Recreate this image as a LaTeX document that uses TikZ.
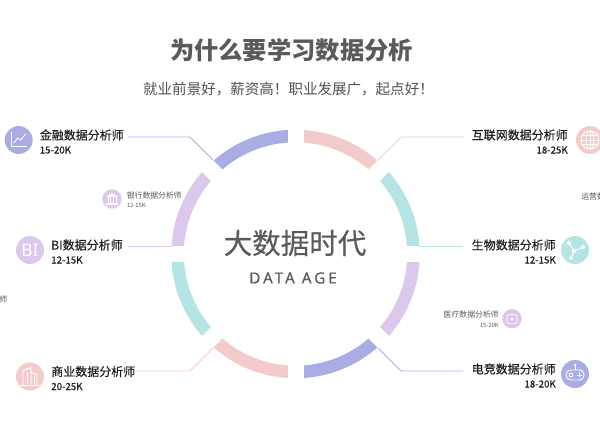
\documentclass[tikz,border=0pt]{standalone}
\usepackage{fontspec}
\setmainfont{Noto Sans CJK SC}
\newfontfamily\latinf[FakeBold=0.25]{Noto Sans}
\newfontfamily\latinr{Noto Sans}
\newfontfamily\medf[FakeBold=0.35]{Noto Sans CJK SC}
\definecolor{cblue}{HTML}{A9ADE4}
\definecolor{cpink}{HTML}{F3CBCB}
\definecolor{cteal}{HTML}{B5E4E4}
\definecolor{clav}{HTML}{DCC8EC}
\definecolor{tgrey}{HTML}{5A5A5A}
\tikzset{
  ringseg/.style={line width=9.4pt},
  gapline/.style={white,line width=12pt},
  conn/.style={line width=0.55pt},
  bigicon/.style={circle,minimum size=21pt,inner sep=0pt,fill=#1},
  smallicon/.style={circle,minimum size=14.5pt,inner sep=0pt,fill=#1},
  job/.style={inner sep=0pt,text=black!88,font=\medf\fontsize{9}{9}\selectfont},
  sal/.style={inner sep=0pt,text=black!88,font=\medf\fontsize{7.3}{8}\selectfont},
  sjob/.style={inner sep=0pt,text=black!65,font=\fontsize{5.9}{6}\selectfont},
  ssal/.style={inner sep=0pt,text=black!65,font=\fontsize{4.4}{5}\selectfont},
  glyph/.style={white,line width=0.7pt,line cap=round,line join=round},
}
\begin{document}
\begin{tikzpicture}[x=0.75pt,y=-0.75pt]
\useasboundingbox (0,0) rectangle (600,447);
\clip (0,0) rectangle (600,447);
\fill[white] (0,0) rectangle (600,447);
\coordinate (c) at (295.5,254);
% ring
\foreach \a/\b/\col in {45/90/cpink,0/45/cteal,-45/0/clav,-90/-45/cblue,-135/-90/cpink,180/225/cteal,135/180/clav,90/135/cblue}{
  \draw[ringseg,\col] ([shift={(c)}]\a:88.5pt) arc[start angle=\a,end angle=\b,radius=88.5pt];
}
\foreach \a in {0,45,90,135}{
  \draw[gapline] ([shift={(c)}]\a:105pt) -- ([shift={(c)}]\a+180:105pt);
}
% titles
\node[inner sep=0pt,text=tgrey,font=\fontsize{18.2}{18}\selectfont\bfseries] (title) at (291.5,50) {为什么要学习数据分析};
\node[inner sep=0pt,text=tgrey!90!black,font=\fontsize{10.9}{11}\selectfont] (sub) at (288.5,89) {就业前景好，薪资高！职业发展广，起点好！};
\node[inner sep=0pt,text=tgrey,font=\medf\fontsize{21.4}{22}\selectfont] (cn) at (295,243) {大数据时代};
\node[inner sep=0pt,text=tgrey,font=\latinf\fontsize{11.5}{12}\selectfont] (en) at (293,278) {\addfontfeature{LetterSpace=19}DATA AGE};
% icons
\node[bigicon=cblue] (i1) at (18.7,140) {};
\node[bigicon=clav] (i2) at (30,250) {};
\node[bigicon=cpink] (i3) at (30,376.5) {};
\node[bigicon=cpink] (i4) at (590,140) {};
\node[bigicon=cteal] (i5) at (575,250) {};
\node[bigicon=cblue] (i6) at (575,374) {};
\node[smallicon=clav] (i7) at (112,199) {};
\node[smallicon=clav] (i8) at (512,318.7) {};
% labels
\node[job,anchor=west] (l1) at (39.5,135) {金融数据分析师};
\node[sal,anchor=west] (s1) at (39.5,150) {15-20K};
\node[job,anchor=west] (l2) at (51,245) {BI数据分析师};
\node[sal,anchor=west] (s2) at (51,260) {12-15K};
\node[job,anchor=west] (l3) at (51,371.5) {商业数据分析师};
\node[sal,anchor=west] (s3) at (51,386.5) {20-25K};
\node[job,anchor=east] (l4) at (568,135) {互联网数据分析师};
\node[sal,anchor=east] (s4) at (568,150) {18-25K};
\node[job,anchor=east] (l5) at (556,245) {生物数据分析师};
\node[sal,anchor=east] (s5) at (556,260) {12-15K};
\node[job,anchor=east] (l6) at (556,369) {电竞数据分析师};
\node[sal,anchor=east] (s6) at (556,384) {18-20K};
\node[sjob,anchor=west] (l7) at (126.5,195.7) {银行数据分析师};
\node[ssal,anchor=west] (s7) at (126.5,205) {12-15K};
\node[sjob,anchor=east] (l8) at (499,315) {医疗数据分析师};
\node[ssal,anchor=east] (s8) at (499,325) {15-20K};
\node[sjob,anchor=west] (l9) at (581,197) {运营数};
\node[sjob,anchor=east] (l10) at (7.5,300) {师};
% connectors
\coordinate (e1) at (213,160); \coordinate (k1) at (190,137); \coordinate (b1) at (128,137);
\coordinate (e2) at (172,246); \coordinate (b2) at (128,246);
\coordinate (e3) at (213,348); \coordinate (k3) at (190,371); \coordinate (b3) at (135,371);
\coordinate (e4) at (378,160); \coordinate (k4) at (401.5,137); \coordinate (b4) at (463,137);
\coordinate (e5) at (419,246); \coordinate (b5) at (463,246);
\coordinate (e6) at (378,348); \coordinate (k6) at (401,371); \coordinate (b6) at (463,371);
\draw[conn,cblue] (b1) -- (k1) -- (e1);
\draw[conn,clav] (b2) -- (e2);
\draw[conn,cpink] (b3) -- (k3) -- (e3);
\draw[conn,cpink] (b4) -- (k4) -- (e4);
\draw[conn,cteal] (b5) -- (e5);
\draw[conn,cblue] (b6) -- (k6) -- (e6);
% icon glyphs
\node[inner sep=0pt,text=white,font=\latinr\fontsize{13}{13}\selectfont] at (i2) {BI};
\begin{scope}[shift={(i1)}]
  \draw[glyph] (-7,-8) -- (-7,6) -- (8,6);
  \draw[glyph] (-5,3) -- (-1,-2) -- (2,0) -- (7,-6);
\end{scope}
\begin{scope}[shift={(i3)}]
  \draw[glyph] (-7,9) -- (-7,-6) -- (1,-9) -- (1,9);
  \draw[glyph] (1,-4) -- (7,-2) -- (7,9);
  \draw[glyph] (-9,9) -- (9,9);
  \draw[glyph] (-3,-4) -- (-3,7) (4,0) -- (4,7);
\end{scope}
\begin{scope}[shift={(i4)}]
  \draw[glyph] (0,0) circle[radius=9];
  \draw[glyph] (0,0) ellipse[x radius=4,y radius=9];
  \draw[glyph] (-9,0) -- (9,0) (-8,-4.5) -- (8,-4.5) (-8,4.5) -- (8,4.5) (0,-9) -- (0,9);
\end{scope}
\begin{scope}[shift={(i5)}]
  \draw[glyph] (-6,-7) -- (-1,1) -- (8,-3) (-1,1) -- (-4,8);
  \fill[white] (-6,-7) circle[radius=2] (8,-3) circle[radius=2] (-4,8) circle[radius=2] (-1,1) circle[radius=2.2];
\end{scope}
\begin{scope}[shift={(i6)}]
  \draw[glyph,rounded corners=3.5pt] (-9,-4) rectangle (9,6);
  \draw[glyph] (0,-4) -- (0,-8);
  \fill[white] (0,-9) circle[radius=1.4];
  \draw[glyph] (-4,1) circle[radius=2];
  \draw[glyph] (2,1) -- (7,1) (4.5,-1.2) -- (4.5,3.2);
\end{scope}
\begin{scope}[shift={(i7)}]
  \fill[white] (-6,-2) -- (0,-6) -- (6,-2) -- cycle;
  \fill[white] (-6,4) rectangle (6,5.5);
  \draw[glyph] (-4,-1) -- (-4,4) (-1.3,-1) -- (-1.3,4) (1.3,-1) -- (1.3,4) (4,-1) -- (4,4);
\end{scope}
\begin{scope}[shift={(i8)}]
  \draw[glyph,line width=0.5pt,rounded corners=1.5pt] (-5,-4) rectangle (5,5);
  \fill[white] (0,0.5) circle[radius=1.8];
\end{scope}
\end{tikzpicture}
\end{document}
